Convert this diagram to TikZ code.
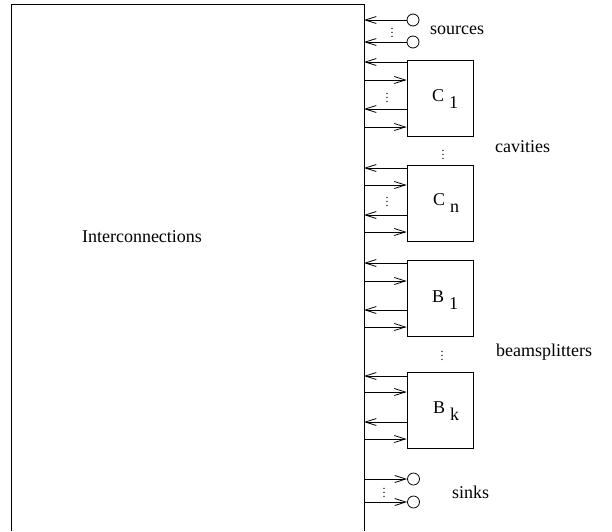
\documentclass[tikz,border=0pt]{standalone}
\usepackage{fontspec}
\setmainfont{Liberation Serif}
\usetikzlibrary{arrows.meta}
\tikzset{
  lw/.style={line width=0.8pt},
  blockbox/.style={lw, draw, minimum width=66pt, minimum height=76pt, inner sep=0pt},
  term/.style={lw, draw, circle, minimum size=12pt, inner sep=0pt},
  arr/.style={lw, -{Straight Barb[length=11pt,width=7pt,line width=0.8pt]}},
  lbl/.style={font=\fontsize{18}{20}\selectfont, inner sep=0pt},
  vd/.style={font=\fontsize{12}{12}\selectfont, inner sep=0pt},
}
\newcommand{\boxlbl}[2]{#1\hspace{5pt}\raisebox{-7pt}{#2}}
\begin{document}
\begin{tikzpicture}[x=1pt,y=-1pt]
\useasboundingbox (0,0) rectangle (612,531);
% interconnection frame (open at bottom)
\coordinate (bl) at (11,531);
\coordinate (tl) at (11,4);
\coordinate (tr) at (364,4);
\coordinate (br) at (364,531);
\draw[lw] (bl) -- (tl) -- (tr) -- (br);
\node[lbl] (ic) at (142,237) {Interconnections};
\coordinate (wall) at (364,0);

% sources
\node[term] (s1) at (413,20) {};
\node[term] (s2) at (413,42) {};
\draw[arr] (s1) -- (wall |- s1);
\draw[arr] (s2) -- (wall |- s2);
\node[vd] (sd) at (392,30) {$\vdots$};
\node[lbl, anchor=west] (src) at (430,30) {sources};

% C1
\node[blockbox] (C1) at (440,98) {};
\node[lbl] (C1l) at (445,99) {\boxlbl{C}{1}};
\draw[arr] (C1.west |- 0,62) -- (wall |- 0,62);
\draw[arr] (wall |- 0,80) -- (C1.west |- 0,80);
\draw[arr] (C1.west |- 0,109) -- (wall |- 0,109);
\draw[arr] (wall |- 0,127) -- (C1.west |- 0,127);
\node[vd] (c1d) at (387,95) {$\vdots$};

\node[vd] (cdots) at (443,152) {$\vdots$};
\node[lbl, anchor=west] (cav) at (495,147) {cavities};

% Cn
\node[blockbox] (Cn) at (440,203) {};
\node[lbl] (Cnl) at (446,203) {\boxlbl{C}{n}};
\draw[arr] (Cn.west |- 0,168) -- (wall |- 0,168);
\draw[arr] (wall |- 0,185) -- (Cn.west |- 0,185);
\draw[arr] (Cn.west |- 0,215) -- (wall |- 0,215);
\draw[arr] (wall |- 0,232) -- (Cn.west |- 0,232);
\node[vd] (cnd) at (387,199) {$\vdots$};

% B1
\node[blockbox] (B1) at (440,298.5) {};
\node[lbl] (B1l) at (445,300) {\boxlbl{B}{1}};
\draw[arr] (B1.west |- 0,263) -- (wall |- 0,263);
\draw[arr] (wall |- 0,281) -- (B1.west |- 0,281);
\draw[arr] (B1.west |- 0,310) -- (wall |- 0,310);
\draw[arr] (wall |- 0,327) -- (B1.west |- 0,327);

\node[vd] (bdots) at (442,353) {$\vdots$};
\node[lbl, anchor=west] (bs) at (496,352) {beamsplitters};

% Bk
\node[blockbox] (Bk) at (440,410) {};
\node[lbl] (Bkl) at (446,411) {\boxlbl{B}{k}};
\draw[arr] (Bk.west |- 0,376) -- (wall |- 0,376);
\draw[arr] (wall |- 0,392) -- (Bk.west |- 0,392);
\draw[arr] (Bk.west |- 0,422) -- (wall |- 0,422);
\draw[arr] (wall |- 0,439) -- (Bk.west |- 0,439);

% sinks
\node[term] (k1) at (413.5,479) {};
\node[term] (k2) at (413.5,502) {};
\draw[arr] (wall |- k1) -- (k1);
\draw[arr] (wall |- k2) -- (k2);
\node[vd] (kd) at (384,490) {$\vdots$};
\node[lbl, anchor=west] (snk) at (452,492) {sinks};
\end{tikzpicture}
\end{document}
